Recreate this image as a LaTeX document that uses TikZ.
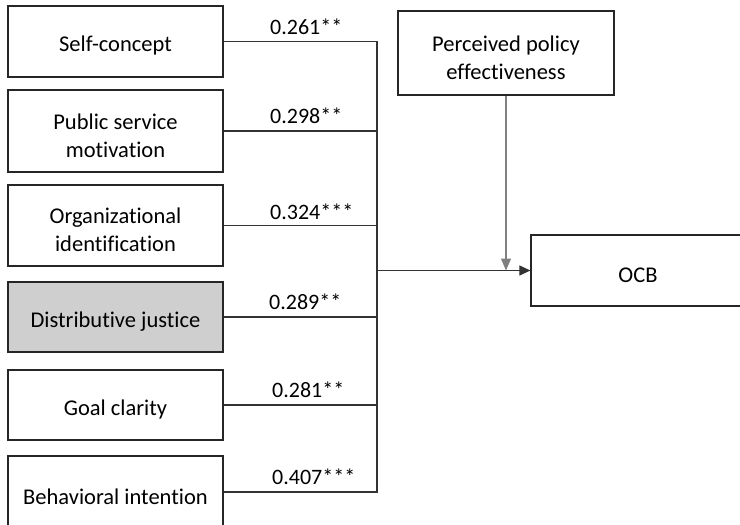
\documentclass[tikz,border=0pt]{standalone}
\usepackage{fontspec}
\setmainfont{Carlito}[Ligatures=NoCommon]
\usetikzlibrary{arrows.meta}
\begin{document}
\begin{tikzpicture}[x=1pt,y=-1pt,
  box/.style={draw=black!85, line width=1.2pt, minimum width=215pt, inner sep=0pt},
  boxtext/.style={align=center, inner sep=0pt, yshift=-4.5pt, font=\fontsize{22.5}{28}\selectfont},
  lab/.style={anchor=base west, inner sep=0pt, font=\fontsize{22}{28}\selectfont},
  conn/.style={draw=black!80, line width=1.1pt},
  ]
\useasboundingbox (0,0) rectangle (740,525);
\clip (0,0) rectangle (740,525);
\node[box, minimum height=71pt, label={[boxtext]center:Self-concept}] (b1) at (115.5,41.5) {};
\node[box, minimum height=82pt, label={[boxtext]center:{Public service\\motivation}}] (b2) at (115.5,131) {};
\node[box, minimum height=81pt, label={[boxtext]center:{Organizational\\identification}}] (b3) at (115.5,225.5) {};
\node[box, minimum height=70pt, fill=black!19, label={[boxtext]center:Distributive justice}] (b4) at (115.5,317) {};
\node[box, minimum height=70pt, label={[boxtext]center:Goal clarity}] (b5) at (115.5,405) {};
\node[box, minimum height=72pt, label={[boxtext]center:Behavioral intention}] (b6) at (115.5,492) {};
\node[box, minimum width=216pt, minimum height=84pt, label={[boxtext]center:{Perceived policy\\effectiveness}}] (ppe) at (506,53) {};
\node[box, minimum width=214pt, minimum height=71pt, label={[boxtext]center:OCB}] (ocb) at (638,270.5) {};
\coordinate (J) at (377,270.5);
\foreach \b in {b1,b2,b3,b4,b5,b6} {
  \draw[conn] (\b.east) -| (J);
}
\draw[conn, -{Triangle[length=11pt,width=10pt]}] (J) -- (ocb.west);
\draw[draw=black!50, line width=1.1pt, -{Triangle[length=12pt,width=10pt]}] (ppe.south) -- (ppe.south |- J);
\node[lab] (l1) at (270,34) {0.261**};
\node[lab] (l2) at (270,123) {0.298**};
\node[lab] (l3) at (270,219) {0.324***};
\node[lab] (l4) at (269,309) {0.289**};
\node[lab] (l5) at (272,397) {0.281**};
\node[lab] (l6) at (272,484) {0.407***};
\end{tikzpicture}
\end{document}
